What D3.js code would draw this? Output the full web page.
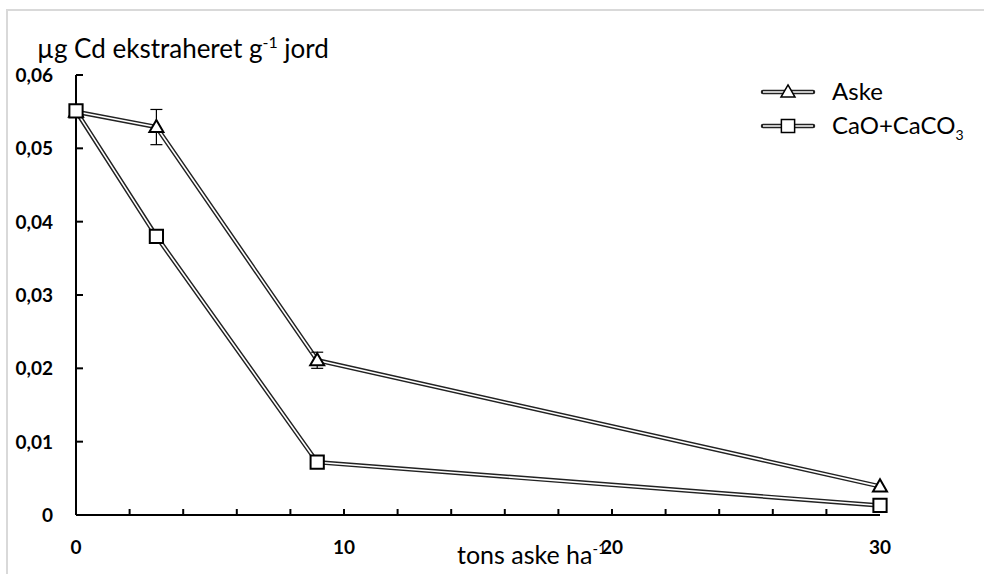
<!DOCTYPE html>
<html>
<head>
<meta charset="utf-8">
<script src="https://cdn.jsdelivr.net/npm/d3@7"></script>
<style>
  body { margin: 0; background: #fff; }
  text { font-family: Lato, "Open Sans", sans-serif; fill: #000; }
</style>
</head>
<body>
<div id="chart"></div>
<script>
// doses (tons aske ha-1)
const doses = [0, 3, 9, 30];
const askeValues = [0.055, 0.0529, 0.0211, 0.0039];
const askeErrors = [0, 0.0024, 0.0011, 0];
const caoValues = [0.0551, 0.0380, 0.0072, 0.0013];
const yTicks = [0, 0.01, 0.02, 0.03, 0.04, 0.05, 0.06];
const yTickLabels = ['0', '0,01', '0,02', '0,03', '0,04', '0,05', '0,06'];
const xTickLabels = [0, 10, 20, 30];

const width = 984, height = 574;
const svg = d3.select('#chart').append('svg')
  .attr('width', width)
  .attr('height', height);

// light frame of the chart area
svg.append('path')
  .attr('d', `M7,${height} L7,10 L${width},10`)
  .attr('fill', 'none')
  .attr('stroke', '#d9d9d9')
  .attr('stroke-width', 2);

const x = d3.scaleLinear().domain([0, 30]).range([76, 880]);
const y = d3.scaleLinear().domain([0, 0.06]).range([515, 75]);

// y axis
const yAxis = svg.append('g');
yAxis.append('line')
  .attr('x1', x(0)).attr('x2', x(0))
  .attr('y1', y(0)).attr('y2', y(0.06))
  .attr('stroke', '#000').attr('stroke-width', 2);
yAxis.selectAll('line.tick')
  .data(yTicks.slice(1))
  .enter().append('line')
  .attr('class', 'tick')
  .attr('x1', x(0)).attr('x2', x(0) + 7)
  .attr('y1', d => y(d)).attr('y2', d => y(d))
  .attr('stroke', '#000').attr('stroke-width', 2);
yAxis.selectAll('text')
  .data(yTicks)
  .enter().append('text')
  .attr('x', 53)
  .attr('y', d => y(d) + 7)
  .attr('text-anchor', 'end')
  .style('font-size', '19px')
  .style('font-weight', 'bold')
  .text((d, i) => yTickLabels[i]);

// x axis
const xAxis = svg.append('g');
xAxis.append('line')
  .attr('x1', x(0)).attr('x2', x(30))
  .attr('y1', y(0)).attr('y2', y(0))
  .attr('stroke', '#000').attr('stroke-width', 2);
xAxis.selectAll('line.tick')
  .data(d3.range(2, 30, 2))
  .enter().append('line')
  .attr('class', 'tick')
  .attr('x1', d => x(d)).attr('x2', d => x(d))
  .attr('y1', y(0)).attr('y2', y(0) - 6)
  .attr('stroke', '#000').attr('stroke-width', 2);

// axis titles
const yTitle = svg.append('text')
  .attr('x', 37).attr('y', 58)
  .style('font-size', '26px');
yTitle.append('tspan').text('µg Cd ekstraheret g');
yTitle.append('tspan').attr('dy', -10).style('font-size', '16px').text('-1');
yTitle.append('tspan').attr('dy', 10).text(' jord');

const xTitle = svg.append('text')
  .attr('x', 457).attr('y', 564)
  .style('font-size', '25px');
xTitle.append('tspan').text('tons aske ha');
xTitle.append('tspan').attr('dy', -10).style('font-size', '15px').text('-1');

// tick labels drawn after the title so "20" sits over the superscript
xAxis.raise();
xAxis.selectAll('text')
  .data(xTickLabels)
  .enter().append('text')
  .attr('x', d => x(d))
  .attr('y', 554)
  .attr('text-anchor', 'middle')
  .style('font-size', '19px')
  .style('font-weight', 'bold')
  .text(d => d);

// double lines (black outline, white core)
const line = d3.line().x(d => x(d[0])).y(d => y(d[1]));
const askeData = doses.map((d, i) => [d, askeValues[i]]);
const caoData = doses.map((d, i) => [d, caoValues[i]]);

function doubleLine(data) {
  svg.append('path').datum(data)
    .attr('d', line).attr('fill', 'none')
    .attr('stroke', '#222').attr('stroke-width', 4.5);
  svg.append('path').datum(data)
    .attr('d', line).attr('fill', 'none')
    .attr('stroke', '#fff').attr('stroke-width', 1.6);
}
doubleLine(askeData);
doubleLine(caoData);

// error bars for Aske
const err = svg.append('g');
askeData.forEach((d, i) => {
  const e = askeErrors[i];
  if (!e) return;
  const cx = x(d[0]);
  err.append('line')
    .attr('x1', cx).attr('x2', cx)
    .attr('y1', y(d[1] + e)).attr('y2', y(d[1] - e))
    .attr('stroke', '#000').attr('stroke-width', 1.2);
  [d[1] + e, d[1] - e].forEach(v => {
    err.append('line')
      .attr('x1', cx - 6).attr('x2', cx + 6)
      .attr('y1', y(v)).attr('y2', y(v))
      .attr('stroke', '#000').attr('stroke-width', 1.2);
  });
});

const tri = d3.symbol().type(d3.symbolTriangle).size(85);
const sq = d3.symbol().type(d3.symbolSquare).size(175);

svg.selectAll('path.aske')
  .data(askeData)
  .enter().append('path')
  .attr('class', 'aske')
  .attr('d', tri)
  .attr('transform', d => `translate(${x(d[0])},${y(d[1]) + 1})`)
  .attr('fill', '#fff').attr('stroke', '#000').attr('stroke-width', 2);

svg.selectAll('path.cao')
  .data(caoData)
  .enter().append('path')
  .attr('class', 'cao')
  .attr('d', sq)
  .attr('transform', d => `translate(${x(d[0])},${y(d[1])})`)
  .attr('fill', '#fff').attr('stroke', '#000').attr('stroke-width', 2);

// legend
const legend = svg.append('g');
const legendItems = [
  { name: 'Aske', symbol: tri, y: 92 },
  { name: 'CaO+CaCO', sub: '3', symbol: sq, y: 126 }
];
legendItems.forEach(it => {
  const seg = [[763, it.y], [813, it.y]];
  legend.append('path').attr('d', d3.line()(seg))
    .attr('stroke', '#222').attr('stroke-width', 4.5).attr('fill', 'none')
    .attr('stroke-linecap', 'round');
  legend.append('path').attr('d', d3.line()(seg))
    .attr('stroke', '#fff').attr('stroke-width', 1.6).attr('fill', 'none');
  legend.append('path').attr('d', it.symbol)
    .attr('transform', `translate(788,${it.y + (it.sub ? 0 : 1)})`)
    .attr('fill', '#fff').attr('stroke', '#000').attr('stroke-width', 1.5);
  const t = legend.append('text')
    .attr('x', 832).attr('y', it.y + 8)
    .style('font-size', '24px')
    .text(it.name);
  if (it.sub) {
    t.append('tspan').attr('dy', 6).style('font-size', '14px').text(it.sub);
  }
});
</script>
</body>
</html>
